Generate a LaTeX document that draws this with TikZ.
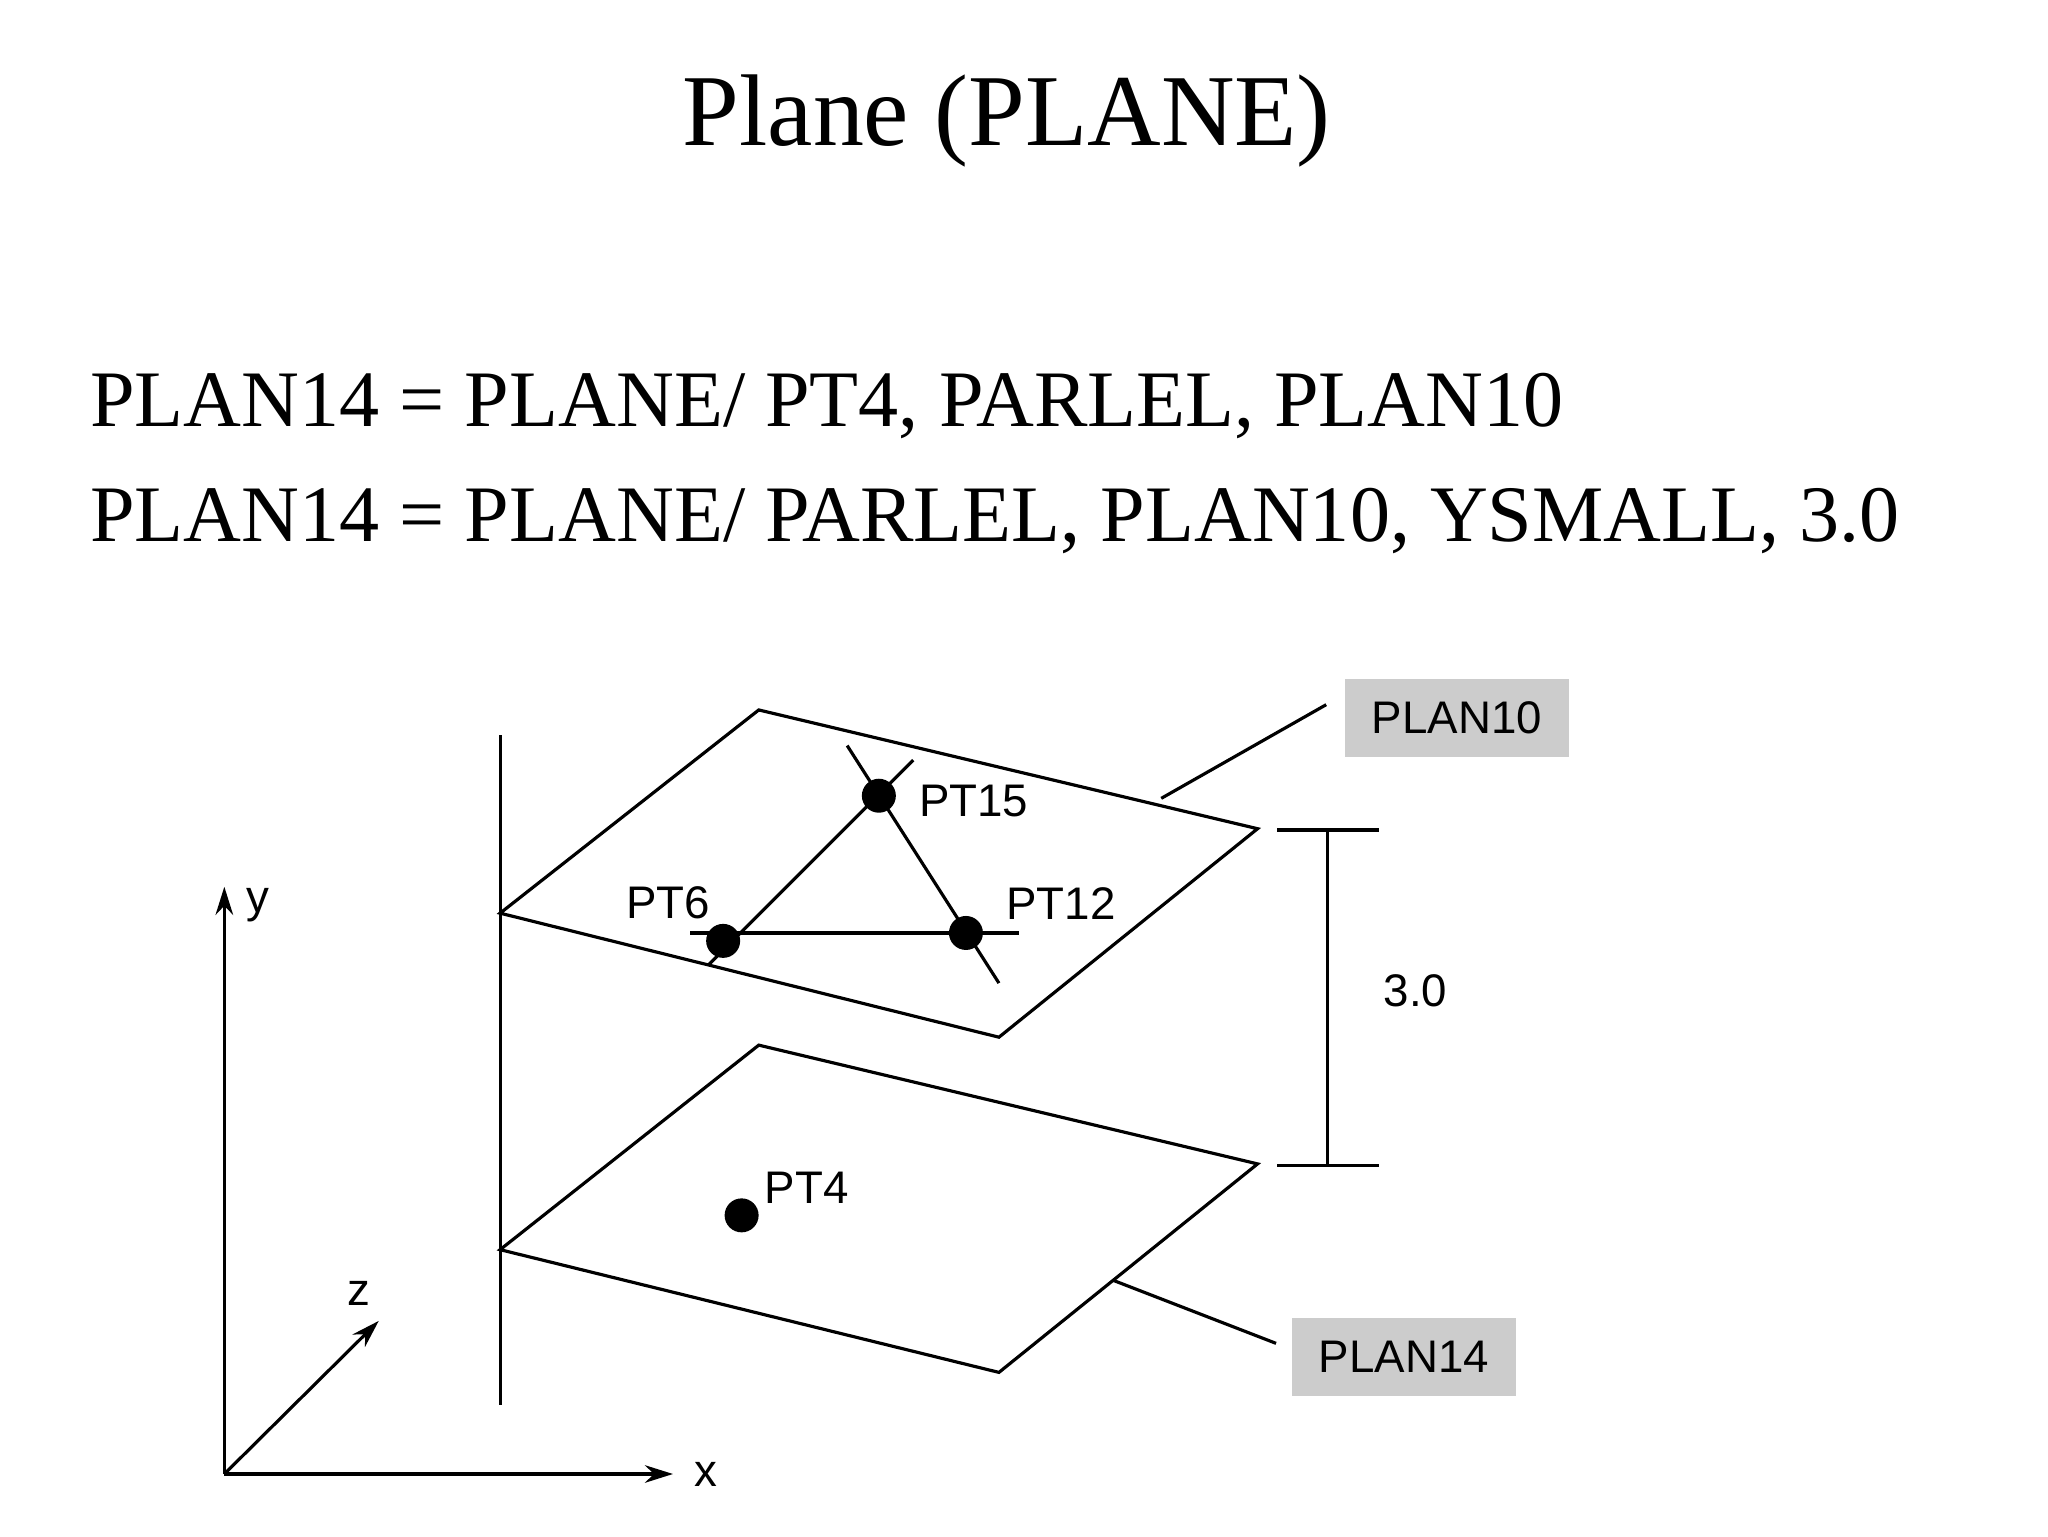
\documentclass[tikz,border=0pt]{standalone}
\usepackage{fontspec}
\setmainfont{Liberation Serif}
\setsansfont{Liberation Sans}
\usetikzlibrary{arrows.meta}
\begin{document}
\begin{tikzpicture}[x=0.013196cm,y=-0.013196cm,
  ln/.style={line width=0.9pt},
  dot/.style={circle,fill=black,inner sep=0pt,minimum size=0.34cm},
  lbl/.style={anchor=west,inner sep=0pt,font=\sffamily\fontsize{13}{15}\selectfont},
  gbox/.style={fill=black!20,minimum width=2.24cm,minimum height=0.78cm,font=\sffamily\fontsize{13}{15}\selectfont},
  ax/.style={ln,-{Stealth[length=8pt,width=5pt]}}]
\useasboundingbox (0,0) rectangle (1552,1164);
\node[font=\fontsize{29}{34}\selectfont] (title) at (763,92) {Plane (PLANE)};
\node[anchor=west,inner sep=0pt,font=\fontsize{22.8}{27}\selectfont] (eq1) at (68,308) {PLAN14 = PLANE/ PT4, PARLEL, PLAN10};
\node[anchor=west,inner sep=0pt,font=\fontsize{22.8}{27}\selectfont] (eq2) at (68,395) {PLAN14 = PLANE/ PARLEL, PLAN10, YSMALL, 3.0};
% wall
\draw[ln] (379,557) -- (379,1065);
% planes
\draw[ln] (379,692) -- (575,538) -- (953,628) -- (757,786) -- cycle;
\draw[ln] (379,947) -- (575,792) -- (953,882) -- (757,1040) -- cycle;
% points
\coordinate (a1) at (537,731); \coordinate (a2) at (692,576);
\coordinate (b1) at (642,565); \coordinate (b2) at (757,745);
\coordinate (c1) at (523,707); \coordinate (c2) at (772,707);
\draw[ln] (a1) -- (a2); \draw[ln] (b1) -- (b2); \draw[ln] (c1) -- (c2);
\node[dot] (p15) at (666,603) {};
\node[dot] (p6) at (548,713) {};
\node[dot] (p12) at (732,707) {};
\node[dot] (p4) at (562,921) {};
\node[lbl] at (696,607) {PT15};
\node[lbl] at (474,684) {PT6};
\node[lbl] at (762,685) {PT12};
\node[lbl] at (579,900) {PT4};
% dimension
\coordinate (d1) at (968,629); \coordinate (d2) at (1045,629);
\coordinate (d3) at (968,883); \coordinate (d4) at (1045,883);
\coordinate (d5) at (1006,629); \coordinate (d6) at (1006,883);
\draw[ln] (d1) -- (d2); \draw[ln] (d3) -- (d4); \draw[ln] (d5) -- (d6);
\node[lbl] at (1048,751) {3.0};
% boxes
\node[gbox] (b10) at (1104,544) {PLAN10};
\node[gbox] (b14) at (1064,1028) {PLAN14};
\coordinate (l10) at (880,605); \coordinate (l14) at (843,970);
\draw[ln] (l10) -- (1005,534);
\draw[ln] (l14) -- (967,1018);
% axes
\coordinate (o) at (170,1117);
\coordinate (ye) at (170,672); \coordinate (xe) at (510,1117); \coordinate (ze) at (287,1001);
\draw[ax] (o) -- (ye);
\draw[ax] (o) -- (xe);
\draw[ax] (o) -- (ze);
\node[lbl] at (186,686) {y};
\node[lbl] at (526,1117) {x};
\node[lbl] at (263,980) {z};
\end{tikzpicture}
\end{document}
